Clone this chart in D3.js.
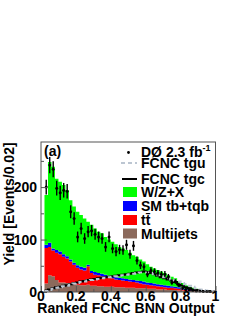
<!DOCTYPE html>
<html>
  <head>
    <meta charset="UTF-8">
    <title></title>
    <style>
    body { margin: 0; background: #fff; }
    svg text { font-family: "Liberation Sans", Arial, sans-serif; font-weight: bold; }
    </style>
  </head>
  <body>
    <svg id="chart" width="244" height="316"></svg>
  </body>
  <script src="https://cdn.jsdelivr.net/npm/d3@7/dist/d3.min.js"></script>
  <script>
  // histogram bins of 0.02, first filled bin starts at 0.02
  var binStart = 0.02, binWidth = 0.02;

  var multijets = [16, 32, 30, 23, 18, 18, 17, 16, 15, 14, 13, 13, 14, 12, 12, 11, 11, 10, 10, 10,
    9, 9, 9, 8, 8, 8, 7, 7, 7, 6, 6, 6, 5, 5, 5, 4, 4, 4, 3, 3, 2, 2, 2, 1, 1, 1, 0.5, 0.5, 0.3];
  var ttbar = [68, 54, 49, 52, 54, 49, 47, 42, 37, 32, 30, 28, 35, 24, 21, 21, 19, 19, 17, 16,
    15, 14, 13, 13, 12, 11, 11, 9, 8, 8, 7, 6, 6, 5, 4, 4, 4, 3, 3, 2, 2, 1, 1, 1, 1, 0.5, 0.5, 0.3, 0.3];
  var smtop = [6, 8, 4, 5, 5, 5, 4, 4, 4, 5, 5, 5, 3, 4, 5, 4, 5, 4, 4, 3,
    4, 4, 4, 4, 4, 4, 4, 5, 5, 4, 4, 4, 4, 4, 4, 4, 3, 3, 3, 3, 2, 2, 1, 1, 0.5, 0.5, 0.5, 0.2, 0.4];
  var wzx = [95, 154, 156, 136, 133, 132, 126, 113, 107, 102, 99, 94, 82, 88, 83, 79, 77, 72, 69, 67,
    63, 59, 57, 55, 51, 47, 45, 41, 38, 35, 31, 29, 27, 25, 23, 20, 18, 16, 11, 9, 7, 5, 4, 3, 2.5, 2, 1.5, 1.5, 1];
  var fcncTgc = [3, 5, 7, 9, 10, 12, 13, 15, 17, 18, 20, 21, 23, 24, 25, 26, 27, 28, 29, 30,
    31, 32, 33, 34, 35, 36, 37, 38, 39, 38, 36, 34, 31, 28, 26, 24, 22, 19, 15, 12, 9, 7, 5, 4, 3, 2, 2, 1, 1];
  var fcncTgu = [2, 4, 6, 8, 9, 11, 12, 14, 16, 17, 19, 20, 22, 23, 24, 25, 26, 27, 28, 29,
    30, 31, 32, 33, 34, 35, 36, 37, 37, 37, 36, 34, 32, 30, 28, 26, 24, 22, 20, 17, 15, 12, 10, 7, 5, 4, 3, 2, 1];
  var dataCounts = [200, 242, 234, 198, 189, 194, 192, 153, 140, 105, 121, 102, 115, 117, 110, 105, 102, 86, 105, 83,
    77, 81, 80, 90, 72, 88, 60, 51, 48, 34, 41, 39, 36, 34, 34, 29, 18, 20, 13, 7, 5, 4, 3, 2, 2, 1, 1, 1, 0];

  var xTicks = [0, 0.2, 0.4, 0.6, 0.8, 1];
  var xTickLabels = ["0", "0.2", "0.4", "0.6", "0.8", "1"];
  var yTicks = [0, 100, 200];

  var legendItems = [
    {label: "DØ 2.3 fb", sup: "-1", kind: "data"},
    {label: "FCNC tgu", kind: "tgu"},
    {label: "FCNC tgc", kind: "tgc"},
    {label: "W/Z+X", kind: "box", color: "#00ff00"},
    {label: "SM tb+tqb", kind: "box", color: "#0000ff"},
    {label: "tt̄", kind: "box", color: "#ff0000"},
    {label: "Multijets", kind: "box", color: "#8c6a5c"}
  ];

  var padL = 41, padR = 215.5, padT = 142, padB = 292;
  var svg = d3.select("svg#chart");

  var x = d3.scaleLinear().domain([0, 1]).range([padL, padR]);
  var y = d3.scaleLinear().domain([0, 286]).range([padB, padT]);

  var rows = multijets.map(function(m, i) {
    return {lo: binStart + i * binWidth, multi: m, tt: ttbar[i], sm: smtop[i], wz: wzx[i],
      tgc: fcncTgc[i], tgu: fcncTgu[i], data: dataCounts[i]};
  });

  var stack = d3.stack().keys(["multi", "tt", "sm", "wz"]);
  var layers = stack(rows);
  var colors = {multi: "#8c6a5c", tt: "#ff0000", sm: "#0000ff", wz: "#00ff00"};

  // each bin becomes two points so the area is drawn as steps
  function stepPoints(series) {
    var pts = [];
    series.forEach(function(s) {
      pts.push({x: s.data.lo, y0: s[0], y1: s[1]});
      pts.push({x: s.data.lo + binWidth, y0: s[0], y1: s[1]});
    });
    return pts;
  }

  var area = d3.area()
    .x(function(d) { return x(d.x); })
    .y0(function(d) { return y(d.y0); })
    .y1(function(d) { return y(d.y1); });

  svg.append("g").selectAll("path")
    .data(layers)
    .enter()
    .append("path")
    .attr("d", function(l) { return area(stepPoints(l)); })
    .style("fill", function(l) { return colors[l.key]; })
    .style("stroke", "none");

  // signal curves as step lines
  function stepLine(key) {
    var pts = [];
    rows.forEach(function(r) {
      pts.push([x(r.lo), y(r[key])]);
      pts.push([x(r.lo + binWidth), y(r[key])]);
    });
    return d3.line()(pts);
  }

  svg.append("path")
    .attr("d", stepLine("tgc"))
    .style("fill", "none")
    .style("stroke", "#000")
    .style("stroke-width", 2);

  svg.append("path")
    .attr("d", stepLine("tgu"))
    .style("fill", "none")
    .style("stroke", "#bcc6d2")
    .style("stroke-width", 2)
    .style("stroke-dasharray", "4,3");

  // data points with sqrt(N) error bars
  var pts = svg.append("g").selectAll("g")
    .data(rows.filter(function(r) { return r.data > 0; }))
    .enter()
    .append("g");

  pts.append("line")
    .attr("x1", function(r) { return x(r.lo + binWidth / 2); })
    .attr("x2", function(r) { return x(r.lo + binWidth / 2); })
    .attr("y1", function(r) { return y(r.data + Math.sqrt(r.data)); })
    .attr("y2", function(r) { return y(Math.max(0, r.data - Math.sqrt(r.data))); })
    .style("stroke", "#000")
    .style("stroke-width", 1.4);

  pts.append("circle")
    .attr("cx", function(r) { return x(r.lo + binWidth / 2); })
    .attr("cy", function(r) { return y(r.data); })
    .attr("r", 1.5)
    .style("fill", "#000");

  // frame
  svg.append("rect")
    .attr("x", padL)
    .attr("y", padT)
    .attr("width", padR - padL)
    .attr("height", padB - padT)
    .style("fill", "none")
    .style("stroke", "#555")
    .style("stroke-width", 1);

  // ticks drawn inside the frame
  var yAxis = d3.axisLeft(y).tickValues(d3.range(0, 286, 50)).tickSize(-3).tickFormat("");
  svg.append("g").attr("transform", "translate(" + padL + ",0)").call(yAxis)
    .call(function(g) { g.select(".domain").remove(); })
    .selectAll("line")
    .attr("x2", function(d) { return d % 100 == 0 ? 6 : 3; })
    .style("stroke", "#555");

  var xAxis = d3.axisBottom(x).tickValues(d3.range(0, 1.001, 0.1)).tickSize(-3).tickFormat("");
  svg.append("g").attr("transform", "translate(0," + padB + ")").call(xAxis)
    .call(function(g) { g.select(".domain").remove(); })
    .selectAll("line")
    .attr("y2", function(d, i) { return i % 2 == 0 ? -6 : -3; })
    .style("stroke", "#555");

  // tick labels
  svg.append("g").selectAll("text")
    .data(yTicks)
    .enter()
    .append("text")
    .attr("x", 37)
    .attr("y", function(d) { return y(d) + 5; })
    .attr("text-anchor", "end")
    .style("font-size", "14px")
    .text(function(d) { return d; });

  svg.append("g").selectAll("text")
    .data(xTicks)
    .enter()
    .append("text")
    .attr("x", function(d) { return x(d); })
    .attr("y", 301)
    .attr("text-anchor", "middle")
    .style("font-size", "14px")
    .text(function(d, i) { return xTickLabels[i]; });

  // axis titles
  svg.append("text")
    .attr("x", 126)
    .attr("y", 313)
    .attr("text-anchor", "middle")
    .style("font-size", "14px")
    .text("Ranked FCNC BNN Output");

  svg.append("text")
    .attr("transform", "translate(13.5,204)rotate(-90)")
    .attr("text-anchor", "middle")
    .style("font-size", "14px")
    .text("Yield [Events/0.02]");

  svg.append("text")
    .attr("x", 44)
    .attr("y", 156)
    .style("font-size", "14px")
    .text("(a)");

  // legend
  var rowBase = [157, 167.5, 183.5, 197, 211, 225, 238.5];
  var lg = svg.append("g").selectAll("g")
    .data(legendItems)
    .enter()
    .append("g")
    .attr("transform", function(d, i) { return "translate(0," + rowBase[i] + ")"; });

  lg.each(function(d) {
    var g = d3.select(this);
    if (d.kind == "data") {
      g.append("circle").attr("cx", 128.5).attr("cy", -4.5).attr("r", 1.4).style("fill", "#000");
    } else if (d.kind == "tgu") {
      g.append("line").attr("x1", 121).attr("x2", 137).attr("y1", -4.5).attr("y2", -4.5)
        .style("stroke", "#bcc6d2").style("stroke-width", 2).style("stroke-dasharray", "4,3");
    } else if (d.kind == "tgc") {
      g.append("line").attr("x1", 122).attr("x2", 137).attr("y1", -4.5).attr("y2", -4.5)
        .style("stroke", "#000").style("stroke-width", 2);
    } else {
      g.append("rect").attr("x", 123).attr("y", -10).attr("width", 14).attr("height", 10)
        .style("fill", d.color);
    }
    var t = g.append("text").attr("x", 141).attr("y", 0).style("font-size", "14px").text(d.label);
    if (d.sup) {
      t.append("tspan").attr("dy", -6).style("font-size", "9px").text(d.sup);
    }
  });
  </script>
</html>
